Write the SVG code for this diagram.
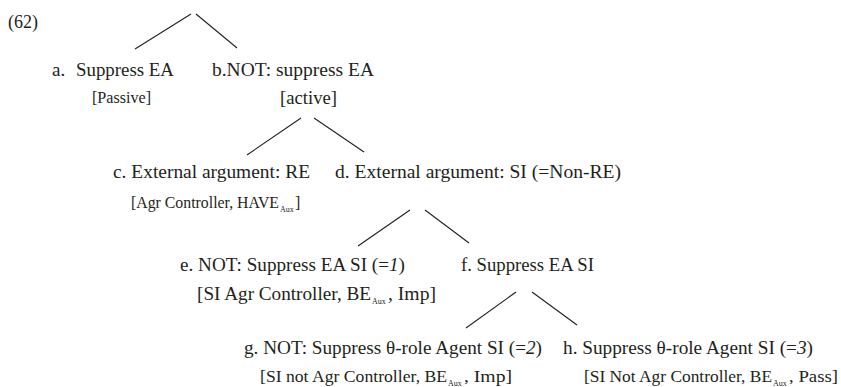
<svg xmlns="http://www.w3.org/2000/svg" width="841" height="387" viewBox="0 0 841 387">
  <style>
    text { fill: #231f20; }
    .m { font-size: 19px; }
    .s { font-size: 16px; }
    .b { font-size: 17px; }
    .n { font-size: 18px; }
    .sub { font-size: 8px; }
    .it { font-style: italic; }
    .edge { stroke: #231f20; stroke-width: 1.1; fill: none; }
  </style>
  <rect width="841" height="387" fill="#ffffff"/>

  <g style="font-family: 'Liberation Serif', 'DejaVu Serif', serif">
  <text id="number" class="n" x="8" y="28">(62)</text>

  <!-- tree branches -->
  <g id="connectors">
    <line class="edge" x1="191" y1="14" x2="135" y2="49"/>
    <line class="edge" x1="196" y1="14" x2="237" y2="48"/>
    <line class="edge" x1="301" y1="118" x2="247" y2="155"/>
    <line class="edge" x1="314" y1="118" x2="364" y2="152"/>
    <line class="edge" x1="410" y1="210" x2="358" y2="246"/>
    <line class="edge" x1="425" y1="210" x2="469" y2="243"/>
    <line class="edge" x1="516" y1="292" x2="466" y2="328"/>
    <line class="edge" x1="532" y1="292" x2="577" y2="325"/>
  </g>

  <g id="node-a">
    <text class="m" x="52" y="76">a.</text>
    <text class="m" x="76" y="76" textLength="98" lengthAdjust="spacingAndGlyphs">Suppress EA</text>
    <text class="s" x="92" y="103" textLength="59" lengthAdjust="spacingAndGlyphs">[Passive]</text>
  </g>

  <g id="node-b">
    <text class="m" x="212" y="76" textLength="162" lengthAdjust="spacingAndGlyphs">b.NOT: suppress EA</text>
    <text class="m" x="280" y="104" textLength="57" lengthAdjust="spacingAndGlyphs">[active]</text>
  </g>

  <g id="node-c">
    <text class="m" x="113" y="178" textLength="197" lengthAdjust="spacingAndGlyphs">c. External argument: RE</text>
    <text class="s" x="131" y="208" textLength="148" lengthAdjust="spacingAndGlyphs">[Agr Controller, HAVE</text>
    <text class="sub" x="280" y="212">Aux</text>
    <text class="s" x="295" y="208">]</text>
  </g>

  <g id="node-d">
    <text class="m" x="335" y="178" textLength="286" lengthAdjust="spacingAndGlyphs">d. External argument: SI (=Non-RE)</text>
  </g>

  <g id="node-e">
    <text class="m" x="180" y="271" textLength="225" lengthAdjust="spacingAndGlyphs">e. NOT: Suppress EA SI (=<tspan class="it">1</tspan>)</text>
    <text class="m" x="197" y="300" textLength="174" lengthAdjust="spacingAndGlyphs">[SI Agr Controller, BE</text>
    <text class="sub" x="372" y="304">Aux</text>
    <text class="m" x="388" y="300" textLength="48" lengthAdjust="spacingAndGlyphs">, Imp]</text>
  </g>

  <g id="node-f">
    <text class="m" x="461" y="271" textLength="133" lengthAdjust="spacingAndGlyphs">f. Suppress EA SI</text>
  </g>

  <g id="node-g">
    <text class="m" x="244" y="354" textLength="298" lengthAdjust="spacingAndGlyphs">g. NOT: Suppress θ-role Agent SI (=<tspan class="it">2</tspan>)</text>
    <text class="b" x="260" y="382" textLength="187" lengthAdjust="spacingAndGlyphs">[SI not Agr Controller, BE</text>
    <text class="sub" x="448" y="386">Aux</text>
    <text class="b" x="464" y="382" textLength="48" lengthAdjust="spacingAndGlyphs">, Imp]</text>
  </g>

  <g id="node-h">
    <text class="m" x="563" y="354" textLength="250" lengthAdjust="spacingAndGlyphs">h. Suppress θ-role Agent SI (=<tspan class="it">3</tspan>)</text>
    <text class="b" x="584" y="382" textLength="188" lengthAdjust="spacingAndGlyphs">[SI Not Agr Controller, BE</text>
    <text class="sub" x="773" y="386">Aux</text>
    <text class="b" x="789" y="382" textLength="49" lengthAdjust="spacingAndGlyphs">, Pass]</text>
  </g>
  </g>
</svg>
